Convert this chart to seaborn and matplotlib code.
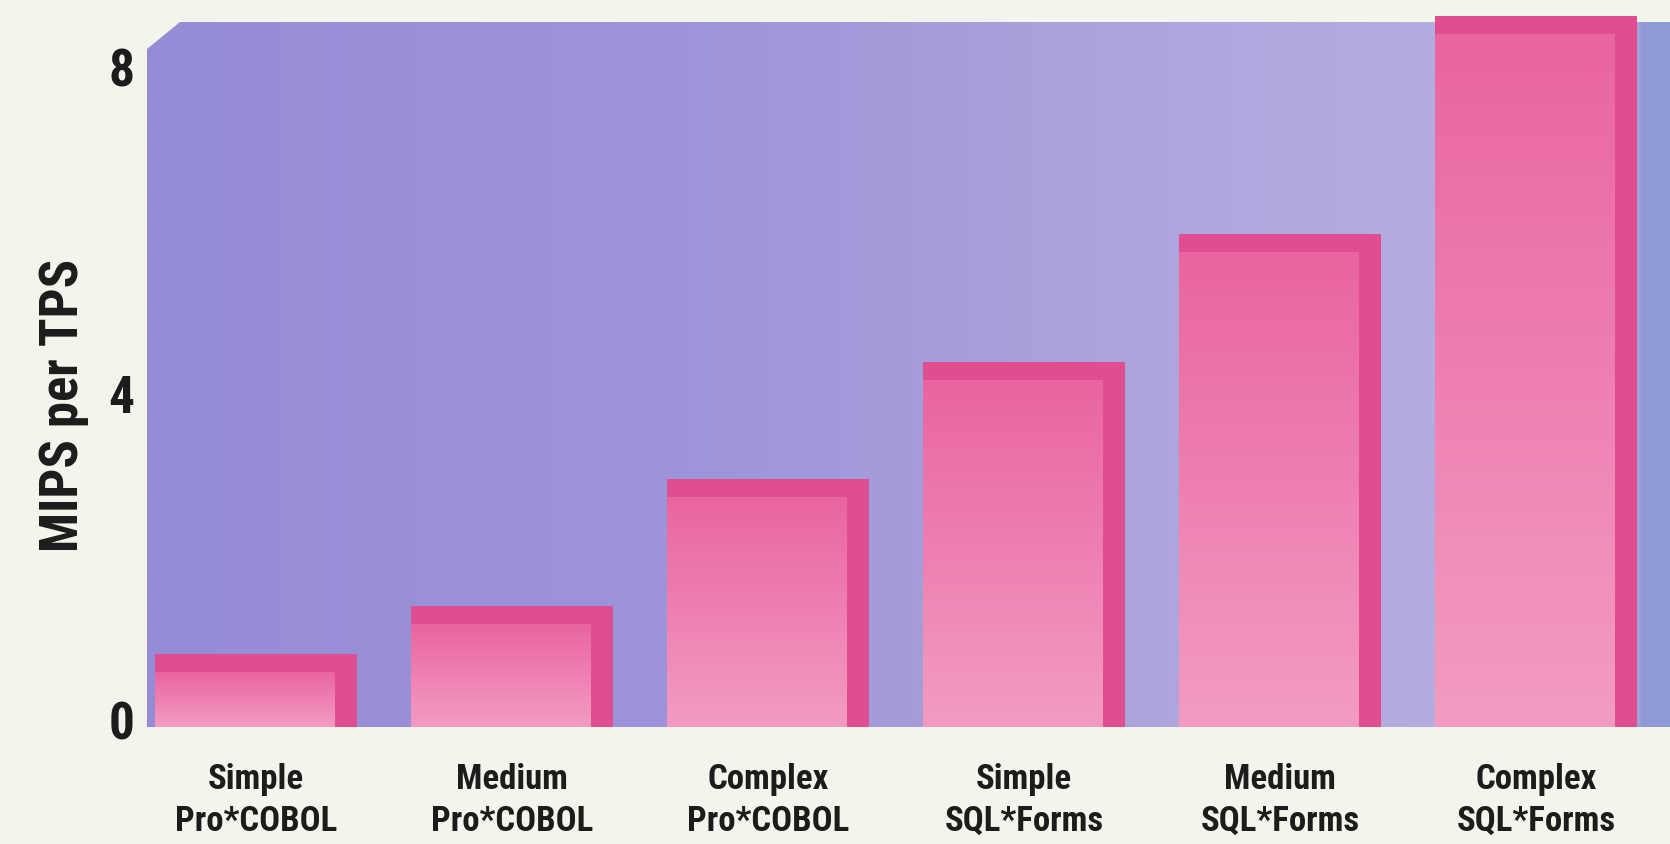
import numpy as np
import pandas as pd
import matplotlib
matplotlib.use("Agg")
import matplotlib.pyplot as plt
import seaborn as sns
from matplotlib.colors import LinearSegmentedColormap
from matplotlib.patches import Polygon, Rectangle
from matplotlib.transforms import ScaledTranslation

# ---- data ----
categories = ["Simple\nPro*COBOL", "Medium\nPro*COBOL", "Complex\nPro*COBOL",
              "Simple\nSQL*Forms", "Medium\nSQL*Forms", "Complex\nSQL*Forms"]
mips_per_tps = [0.89, 1.48, 3.04, 4.47, 6.04, 8.71]
y_ticks = [0, 4, 8]
y_tick_labels = ["0", "4", "8"]
y_label = "MIPS per TPS"

# ---- style ----
sns.set_theme(style="white")
plt.rcParams['font.family'] = ['Roboto Condensed', 'Liberation Sans Narrow', 'Roboto', 'DejaVu Sans']

page_color = "#f4f3ec"
bar_dark = "#e04e92"
face_top = "#e9659f"
face_bottom = "#f39cc3"
text_color = "#1c1c1c"

fig = plt.figure(figsize=(16.7, 8.45), dpi=100, facecolor=page_color)
ax = fig.add_axes([147 / 1670, 1 - 728 / 845, 1 - 147 / 1670, (728 - 12) / 845])
ax.set_facecolor("none")

df = pd.DataFrame({"category": categories, "value": mips_per_tps})
sns.barplot(data=df, x="category", y="value", order=categories, color=bar_dark,
            saturation=1, width=0.79, ax=ax, zorder=3, linewidth=0, edgecolor="none")

bars = list(ax.patches)

# ---- background panel with gradient and chamfered corner ----
bg_poly = Polygon([(0, 0), (1, 0), (1, 0.9846), (0.0217, 0.9846), (0, 0.947)],
                  closed=True, transform=ax.transAxes, facecolor="none", edgecolor="none")
ax.add_patch(bg_poly)
bg_cmap = LinearSegmentedColormap.from_list(
    "bg", [(0.0, "#958cd6"), (0.35, "#9d94d9"), (0.6, "#aaa2dc"),
           (0.85, "#b5addf"), (0.975, "#b9b1e2"), (0.985, "#8e9ad6"), (1.0, "#8e9ad6")])
grad = np.linspace(0, 1, 512).reshape(1, -1)
bg_img = ax.imshow(grad, cmap=bg_cmap, extent=(0, 1, 0, 1), transform=ax.transAxes,
                   aspect="auto", zorder=0, interpolation="bilinear")
bg_img.set_clip_path(bg_poly)

# ---- lighter front faces of the 3-D bars ----
face_cmap = LinearSegmentedColormap.from_list("face", [face_bottom, face_top])
vgrad = np.linspace(0, 1, 256).reshape(-1, 1)
side = 0.09
top = 0.22
for p in bars:
    x0, w, h = p.get_x(), p.get_width(), p.get_height()
    face = Rectangle((x0, 0), w - side, h - top, facecolor="none", edgecolor="none")
    ax.add_patch(face)
    img = ax.imshow(vgrad, cmap=face_cmap, origin="lower",
                    extent=(x0, x0 + w - side, 0, h - top),
                    aspect="auto", zorder=4, interpolation="bilinear")
    img.set_clip_path(face)

for p in bars:
    p.set_clip_on(False)

ax.set_xlim(-0.426, 5.523)
ax.set_ylim(0, 8.775)

# ---- axes text ----
ax.set_yticks(y_ticks)
ax.set_yticklabels(y_tick_labels, fontsize=37, fontweight="bold", color=text_color)
ax.set_xticks(range(len(categories)))
ax.set_xticklabels(categories, fontsize=25, fontweight="bold", color=text_color, linespacing=1.35)
ax.tick_params(axis="y", length=0, pad=9)
ax.tick_params(axis="x", length=0, pad=25)
for lab in ax.get_yticklabels():
    lab.set_transform(lab.get_transform() + ScaledTranslation(0, 8 / 100, fig.dpi_scale_trans))
ax.set_xlabel("")
ax.set_ylabel(y_label, fontsize=38, fontweight="bold", color=text_color, va="center")
ax.yaxis.set_label_coords(-0.055, 0.45)
for s in ax.spines.values():
    s.set_visible(False)
ax.grid(False)

fig.savefig("out.png", dpi=100, facecolor=page_color)
